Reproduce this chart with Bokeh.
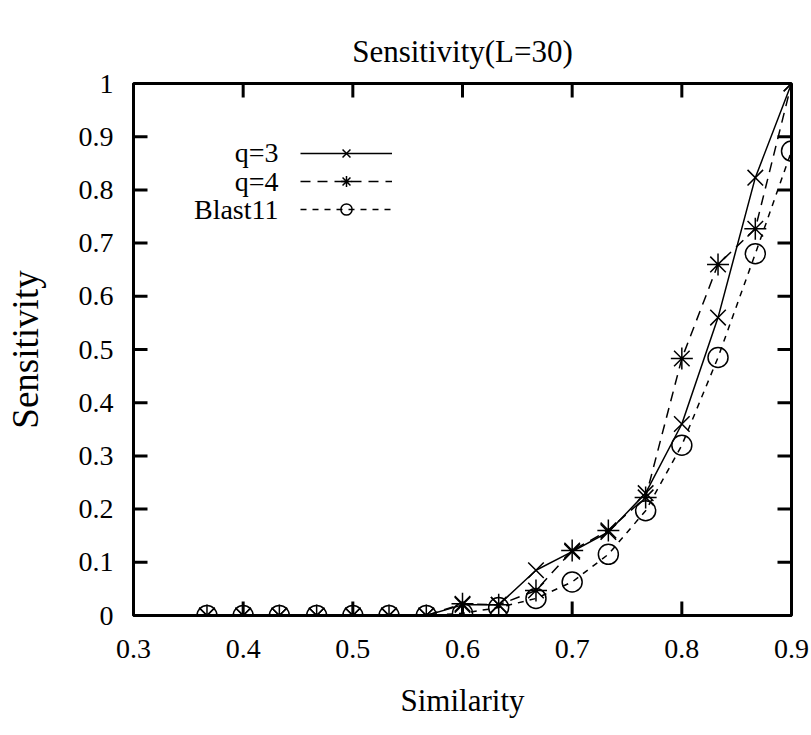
import math
from bokeh.plotting import figure
from bokeh.models import (Range1d, FixedTicker, LinearAxis, Legend, LegendItem, Label)
from bokeh.embed import file_html
from bokeh.resources import INLINE

# ---- data ----
similarity = [0.367, 0.4, 0.433, 0.467, 0.5, 0.533, 0.567, 0.6, 0.633,
              0.667, 0.7, 0.733, 0.767, 0.8, 0.833, 0.867, 0.9]
q3 = [0, 0, 0, 0, 0, 0, 0, 0.02, 0.02, 0.085, 0.12, 0.157, 0.23, 0.36, 0.56, 0.823, 1.0]
q4 = [0, 0, 0, 0, 0, 0, 0, 0.022, 0.02, 0.047, 0.122, 0.16, 0.222, 0.483, 0.66, 0.727, 1.0]
blast11 = [0, 0, 0, 0, 0, 0, 0, 0.004, 0.015, 0.032, 0.063, 0.115, 0.197, 0.32, 0.485, 0.68, 0.873]
series_names = ["q=3", "q=4", "Blast11"]

x_ticks = [0.3, 0.4, 0.5, 0.6, 0.7, 0.8, 0.9]
x_tick_labels = ["0.3", "0.4", "0.5", "0.6", "0.7", "0.8", "0.9"]
y_ticks = [0, 0.1, 0.2, 0.3, 0.4, 0.5, 0.6, 0.7, 0.8, 0.9, 1]
y_tick_labels = ["0", "0.1", "0.2", "0.3", "0.4", "0.5", "0.6", "0.7", "0.8", "0.9", "1"]

FONT = "Liberation Serif"

p = figure(frame_width=658, frame_height=532,
           x_range=Range1d(0.3, 0.9), y_range=Range1d(0, 1),
           output_backend="svg", toolbar_location=None,
           x_axis_location=None, y_axis_location=None,
           min_border_left=133, min_border_right=20,
           min_border_top=83, min_border_bottom=120,
           title="Sensitivity(L=30)")

p.title.align = "center"
p.title.text_font = FONT
p.title.text_font_size = "31px"
p.title.text_font_style = "normal"
p.title.text_color = "black"
p.title.standoff = 30

p.grid.visible = False
p.outline_line_color = "black"
p.outline_line_width = 3
p.background_fill_color = "white"
p.border_fill_color = "white"

x0, x1 = p.x_range.start, p.x_range.end
y0, y1 = p.y_range.start, p.y_range.end

common = dict(axis_line_width=3, axis_line_color="black",
              major_tick_in=0, major_tick_out=0,
              major_tick_line_color=None, minor_tick_line_color=None,
              major_label_text_font=FONT, major_label_text_font_size="28px",
              major_label_text_color="black")

ax_bottom = LinearAxis(ticker=FixedTicker(ticks=x_ticks),
                       major_label_overrides=dict(zip(x_ticks, x_tick_labels)),
                       major_label_standoff=24,
                       axis_label="Similarity", axis_label_text_font=FONT,
                       axis_label_text_font_size="31px", axis_label_text_font_style="normal",
                       axis_label_text_color="black", axis_label_standoff=22,
                       **common)
p.add_layout(ax_bottom, "below")

ax_left = LinearAxis(ticker=FixedTicker(ticks=y_ticks),
                     major_label_overrides=dict(zip(y_ticks, y_tick_labels)),
                     major_label_standoff=20,
                     axis_label="Sensitivity", axis_label_text_font=FONT,
                     axis_label_text_font_size="37px", axis_label_text_font_style="normal",
                     axis_label_text_color="black", axis_label_standoff=30,
                     **common)
p.add_layout(ax_left, "left")

# inward ticks on all four sides (drawn at the tick values on the frame edges)
TICK = 28
p.scatter(x=[x0] * len(y_ticks), y=y_ticks, marker="dash", size=TICK, line_width=3, line_color="black")
p.scatter(x=[x1] * len(y_ticks), y=y_ticks, marker="dash", size=TICK, line_width=3, line_color="black")
p.scatter(x=x_ticks, y=[y0] * len(x_ticks), marker="dash", angle=math.pi / 2, size=TICK, line_width=3, line_color="black")
p.scatter(x=x_ticks, y=[y1] * len(x_ticks), marker="dash", angle=math.pi / 2, size=TICK, line_width=3, line_color="black")

# ---- series ----
l1 = p.line(similarity, q3, line_color="black", line_width=1.5)
m1 = p.scatter(similarity, q3, marker="x", size=22, line_color="black", line_width=1.5)

l2 = p.line(similarity, q4, line_color="black", line_width=1.5, line_dash="10 7")
m2 = p.scatter(similarity, q4, marker="asterisk", size=22, line_color="black", line_width=1.5)

l3 = p.line(similarity, blast11, line_color="black", line_width=1.5, line_dash="6 6")
m3 = p.scatter(similarity, blast11, marker="circle", size=20, line_color="black",
               line_width=1.5, fill_color=None)

# legend: samples from Bokeh's Legend, names as serif text to their left
legend = Legend(items=[
    LegendItem(label=series_names[0], renderers=[l1, m1]),
    LegendItem(label=series_names[1], renderers=[l2, m2]),
    LegendItem(label=series_names[2], renderers=[l3, m3]),
], location=(167, 392),
    border_line_color=None, background_fill_alpha=0,
    glyph_width=92, glyph_height=28, label_height=28,
    label_text_font=FONT, label_text_font_size="24px", label_text_alpha=0,
    spacing=0, padding=0, margin=0, label_standoff=6)
p.add_layout(legend)

for i, name in enumerate(series_names):
    p.add_layout(Label(x=145, y=463 - 28.5 * i, x_units="screen", y_units="screen",
                       text=name, text_font=FONT, text_font_size="28px",
                       text_color="black", text_align="right", text_baseline="middle"))

open("out.html", "w").write(file_html(p, INLINE))
